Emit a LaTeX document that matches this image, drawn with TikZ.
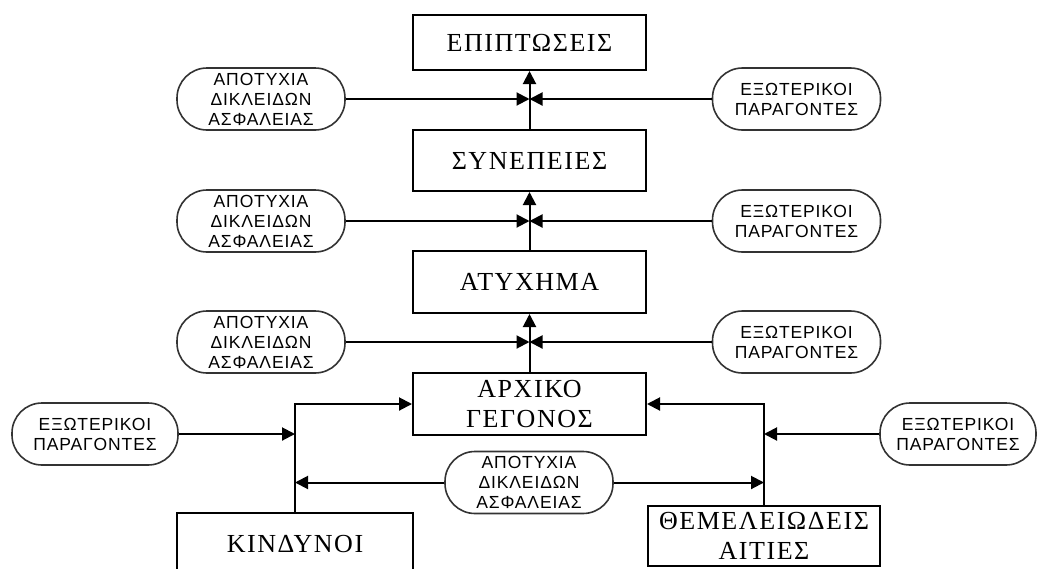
\documentclass[tikz,border=0pt]{standalone}
\usepackage{fontspec}
\setmainfont{Liberation Serif}
\newfontfamily\pillfont[LetterSpace=5]{Liberation Sans}
\newfontfamily\boxfont[LetterSpace=6]{Liberation Serif}
\usetikzlibrary{arrows.meta}
\begin{document}
\begin{tikzpicture}[x=1pt,y=-1pt,
  mainbox/.style={draw=black,line width=2pt,minimum width=233pt,inner sep=0pt,align=center,
    font=\boxfont\fontsize{26}{30}\selectfont},
  pill/.style={draw=black!80,line width=1.6pt,rounded corners=30pt,minimum width=168pt,minimum height=62pt,
    inner sep=0pt,align=center,font=\pillfont\fontsize{17.5}{20}\selectfont},
  conn/.style={line width=2pt,-{Triangle[length=13pt,width=13pt]}}]
\clip (0,0) rectangle (1038,568);
\fill[white] (0,0) rectangle (1038,568);
% main boxes
\node[mainbox,minimum height=55pt] (epi) at (529.5,42.5) {ΕΠΙΠΤΩΣΕΙΣ};
\node[mainbox,minimum height=61pt] (syn) at (529.5,160.5) {ΣΥΝΕΠΕΙΕΣ};
\node[mainbox,minimum height=62pt] (aty) at (529.5,282) {ΑΤΥΧΗΜΑ};
\node[mainbox,minimum height=62pt] (arx) at (529.5,404) {ΑΡΧΙΚΟ\\ΓΕΓΟΝΟΣ};
\node[mainbox,minimum width=236pt,minimum height=62pt] (kin) at (295,544) {ΚΙΝΔΥΝΟΙ};
\node[mainbox,minimum width=232pt,minimum height=60pt] (the) at (764,536) {ΘΕΜΕΛΕΙΩΔΕΙΣ\\ΑΙΤΙΕΣ};
% pills left
\node[pill] (lp1) at (261,99) {ΑΠΟΤΥΧΙΑ\\ΔΙΚΛΕΙΔΩΝ\\ΑΣΦΑΛΕΙΑΣ};
\node[pill] (lp2) at (261,221) {ΑΠΟΤΥΧΙΑ\\ΔΙΚΛΕΙΔΩΝ\\ΑΣΦΑΛΕΙΑΣ};
\node[pill] (lp3) at (261,342) {ΑΠΟΤΥΧΙΑ\\ΔΙΚΛΕΙΔΩΝ\\ΑΣΦΑΛΕΙΑΣ};
% pills right
\node[pill] (rp1) at (796.5,99) {ΕΞΩΤΕΡΙΚΟΙ\\ΠΑΡΑΓΟΝΤΕΣ};
\node[pill] (rp2) at (796.5,221) {ΕΞΩΤΕΡΙΚΟΙ\\ΠΑΡΑΓΟΝΤΕΣ};
\node[pill] (rp3) at (796.5,342) {ΕΞΩΤΕΡΙΚΟΙ\\ΠΑΡΑΓΟΝΤΕΣ};
% bottom pills
\node[pill,minimum width=166pt] (lp4) at (95,434) {ΕΞΩΤΕΡΙΚΟΙ\\ΠΑΡΑΓΟΝΤΕΣ};
\node[pill,minimum width=156pt] (rp4) at (958,434) {ΕΞΩΤΕΡΙΚΟΙ\\ΠΑΡΑΓΟΝΤΕΣ};
\node[pill] (mid) at (529,482.5) {ΑΠΟΤΥΧΙΑ\\ΔΙΚΛΕΙΔΩΝ\\ΑΣΦΑΛΕΙΑΣ};
% connectors
\draw[conn] (syn.north) -- (epi.south);
\draw[conn] (lp1.east) -- (lp1.east -| syn.north);
\draw[conn] (rp1.west) -- (rp1.west -| syn.north);
\draw[conn] (aty.north) -- (syn.south);
\draw[conn] (lp2.east) -- (lp2.east -| aty.north);
\draw[conn] (rp2.west) -- (rp2.west -| aty.north);
\draw[conn] (arx.north) -- (aty.south);
\draw[conn] (lp3.east) -- (lp3.east -| arx.north);
\draw[conn] (rp3.west) -- (rp3.west -| arx.north);
\draw[conn] (kin.north) |- (arx.west);
\draw[conn] (the.north) |- (arx.east);
\draw[conn] (lp4.east) -- (lp4.east -| kin.north);
\draw[conn] (rp4.west) -- (rp4.west -| the.north);
\draw[conn] (mid.west) -- (mid.west -| kin.north);
\draw[conn] (mid.east) -- (mid.east -| the.north);
\end{tikzpicture}
\end{document}
